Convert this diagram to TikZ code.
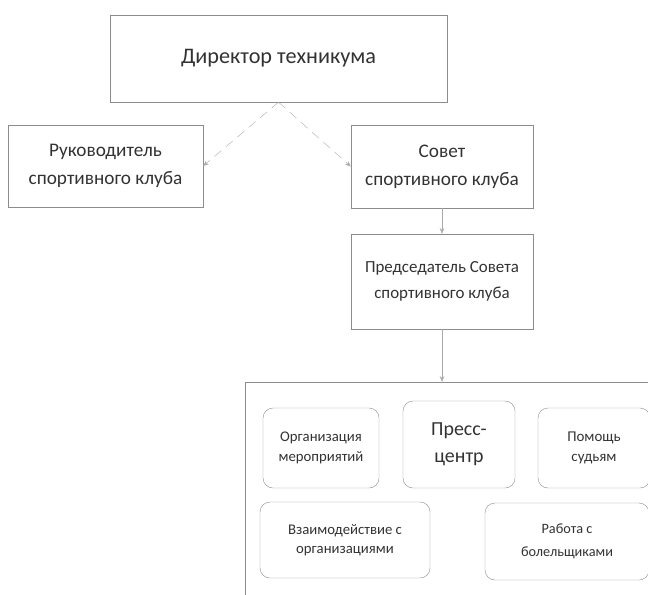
\documentclass[tikz,border=0pt]{standalone}
\usepackage{fontspec}
\setmainfont{Carlito}
\usetikzlibrary{arrows.meta,positioning}
\definecolor{ink}{RGB}{50,50,50}
\definecolor{frame}{RGB}{140,140,140}
\definecolor{wire}{RGB}{170,170,170}
\tikzset{
  >={Stealth[length=2mm,width=1.6mm]},
  box/.style={draw=frame,thin,text=ink,align=center,inner sep=0pt},
  pane/.style={box,rounded corners=10bp,font=\fontsize{14.8}{20}\selectfont},
  link/.style={->,thin,draw=wire},
  link dash/.style={link,dashed,dash pattern=on 9bp off 6bp},
}

\begin{document}
\begin{tikzpicture}[x=1bp,y=-1bp]
  \useasboundingbox (0,0) rectangle (648,595);
  % top level
  \node[box,minimum width=337bp,minimum height=87bp,font=\fontsize{22.3}{28}\selectfont]
    (director) at (278.5,58.5) {Директор техникума};
  \node[box,minimum width=195bp,minimum height=82bp,font=\fontsize{19.3}{28}\selectfont]
    (head) at (105.5,166) {Руководитель\\спортивного клуба};
  \node[box,minimum width=182bp,minimum height=83bp,font=\fontsize{19.3}{28}\selectfont]
    (council) at (442,166.5) {Совет\\спортивного клуба};
  \node[box,minimum width=182bp,minimum height=95bp,font=\fontsize{17}{26}\selectfont]
    (chair) at (442,281.5) {Председатель Совета\\спортивного клуба};
  % sections
  \node[box,minimum width=440bp,minimum height=240bp] (sections) at (465,502) {};
  \node[pane,minimum width=116bp,minimum height=80bp]
    (events) at (321,448) {Организация\\мероприятий};
  \node[pane,minimum width=112bp,minimum height=87bp,font=\fontsize{20}{27}\selectfont]
    (press) at (459,444.5) {Пресс-\\центр};
  \node[pane,minimum width=112bp,minimum height=80bp,font=\fontsize{15}{20}\selectfont]
    (referees) at (594,448) {Помощь\\судьям};
  \node[pane,minimum width=170bp,minimum height=76bp,font=\fontsize{14.8}{19}\selectfont]
    (partners) at (345,540) {Взаимодействие с\\организациями};
  \node[pane,minimum width=164bp,minimum height=77bp,font=\fontsize{14.3}{23}\selectfont]
    (fans) at (567,541.5) {Работа с\\болельщиками};

  \draw[link dash] (director.south) -- (head.east);
  \draw[link dash] (director.south) -- (council.west);
  \draw[link] (council.south) -- (chair.north);
  \draw[link] (chair.south) -- (chair.south |- sections.north);
\end{tikzpicture}
\end{document}
